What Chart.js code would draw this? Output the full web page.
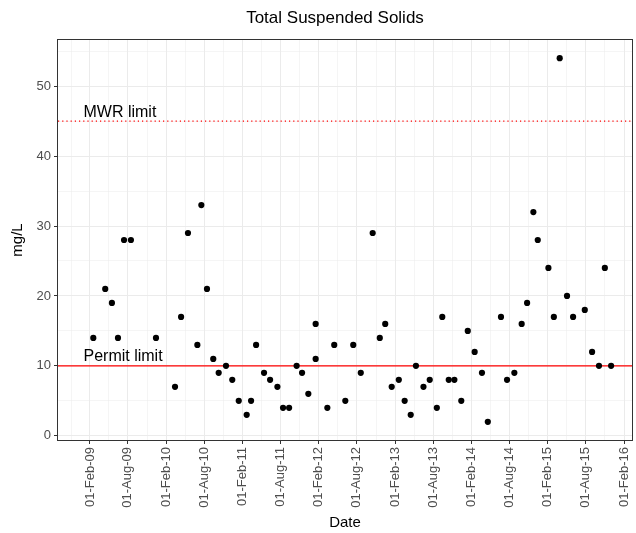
<!DOCTYPE html>
<html>
<head>
<meta charset="utf-8">
<script src="https://cdn.jsdelivr.net/npm/chart.js@4.4.1/dist/chart.umd.min.js"></script>
<style>
  html, body { margin: 0; padding: 0; background: #fff; }
  #wrap { width: 636px; height: 533px; }
</style>
</head>
<body>
<div id="wrap"><canvas id="tss"></canvas></div>
<script>
// sampling dates and TSS results (mg/L)
const sampleDates = [
  '2009-02-17', '2009-04-15', '2009-05-17', '2009-06-15', '2009-07-14', '2009-08-16',
  '2009-12-14', '2010-03-15', '2010-04-13', '2010-05-16', '2010-06-30', '2010-07-19',
  '2010-08-15', '2010-09-14', '2010-10-10', '2010-11-14', '2010-12-14', '2011-01-14',
  '2011-02-21', '2011-03-14', '2011-04-07', '2011-05-15', '2011-06-13', '2011-07-18',
  '2011-08-14', '2011-09-12', '2011-10-18', '2011-11-13', '2011-12-13', '2012-01-17',
  '2012-01-17', '2012-03-13', '2012-04-15', '2012-06-07', '2012-07-15', '2012-08-20',
  '2012-10-16', '2012-11-19', '2012-12-15', '2013-01-15', '2013-02-18', '2013-03-18',
  '2013-04-16', '2013-05-11', '2013-06-16', '2013-07-16', '2013-08-19', '2013-09-14',
  '2013-10-15', '2013-11-11', '2013-12-14', '2014-01-14', '2014-02-16', '2014-03-23',
  '2014-04-20', '2014-06-22', '2014-07-21', '2014-08-25', '2014-09-29', '2014-10-25',
  '2014-11-24', '2014-12-15', '2015-02-04', '2015-03-02', '2015-03-30', '2015-05-04',
  '2015-06-02', '2015-07-28', '2015-09-01', '2015-10-04', '2015-11-01', '2015-12-01'
]
const tssValues = [
  14, 21, 19, 14, 28, 28,
  14, 7, 17, 29, 13, 33,
  21, 11, 9, 10, 8, 5,
  3, 5, 13, 9, 8, 7,
  4, 4, 10, 9, 6, 16,
  11, 4, 13, 5, 13, 9,
  29, 14, 16, 7, 8, 5,
  3, 10, 7, 8, 4, 17,
  8, 8, 5, 15, 12, 9,
  2, 17, 8, 9, 16, 19,
  32, 28, 24, 17, 54, 20,
  17, 18, 12, 10, 24, 10
]

const permitLimit = 10
const mwrLimit = 45
const limitLabels = ['Permit limit', 'MWR limit']

const xTickDates = [
  '2009-02-01', '2009-08-01', '2010-02-01', '2010-08-01', '2011-02-01',
  '2011-08-01', '2012-02-01', '2012-08-01', '2013-02-01', '2013-08-01',
  '2014-02-01', '2014-08-01', '2015-02-01', '2015-08-01', '2016-02-01'
]
const yTicks = [0, 10, 20, 30, 40, 50]

const xRange = ['2008-09-01', '2016-03-10']
const yRange = [-0.6, 56.6]

const months = ['Jan','Feb','Mar','Apr','May','Jun','Jul','Aug','Sep','Oct','Nov','Dec']
function fmtDate(ms) {
  const d = new Date(ms)
  const dd = String(d.getUTCDate()).padStart(2, '0')
  const yy = String(d.getUTCFullYear() % 100).padStart(2, '0')
  return dd + '-' + months[d.getUTCMonth()] + '-' + yy
}

// major ticks plus the minor ones halfway between (and one step past each end)
function withMinors(majors, lo, hi) {
  const out = []
  for (let i = 0; i < majors.length; i++) {
    if (i == 0) out.push(majors[0] - (majors[1] - majors[0]) / 2)
    out.push(majors[i])
    if (i < majors.length - 1) out.push((majors[i] + majors[i + 1]) / 2)
    else out.push(majors[i] + (majors[i] - majors[i - 1]) / 2)
  }
  return out.filter(v => v >= lo && v <= hi)
}

const xMajor = xTickDates.map(s => Date.parse(s))
const xMin = Date.parse(xRange[0])
const xMax = Date.parse(xRange[1])
const xAll = withMinors(xMajor, xMin, xMax)
const yAll = withMinors(yTicks, yRange[0], yRange[1])

const isMajorX = v => xMajor.includes(v)
const isMajorY = v => yTicks.includes(v)

const points = sampleDates.map((s, i) => ({ x: Date.parse(s), y: tssValues[i] }))

// limit lines, their labels, title and panel border
const decorations = {
  id: 'decorations',
  beforeDatasetsDraw(chart) {
    const { ctx, chartArea: a, scales: { x, y } } = chart
    ctx.save()
    ctx.beginPath()
    ctx.rect(a.left, a.top, a.right - a.left, a.bottom - a.top)
    ctx.clip()
    ctx.strokeStyle = '#FF0000'

    let py = y.getPixelForValue(permitLimit)
    ctx.lineWidth = 1.2
    ctx.setLineDash([])
    ctx.beginPath()
    ctx.moveTo(a.left, py)
    ctx.lineTo(a.right, py)
    ctx.stroke()

    let my = y.getPixelForValue(mwrLimit)
    ctx.lineWidth = 1.2
    ctx.setLineDash([1.2, 3])
    ctx.beginPath()
    ctx.moveTo(a.left, my)
    ctx.lineTo(a.right, my)
    ctx.stroke()
    ctx.setLineDash([])

    const lx = x.getPixelForValue(Date.parse('2009-01-01'))
    ctx.fillStyle = '#000000'
    ctx.font = '16px "Liberation Sans", Arial, sans-serif'
    ctx.textAlign = 'left'
    ctx.textBaseline = 'alphabetic'
    ctx.fillText(limitLabels[0], lx, py - 4.5)
    ctx.fillText(limitLabels[1], lx, my - 4.5)
    ctx.restore()
  },
  afterDraw(chart) {
    const { ctx, chartArea: a } = chart
    ctx.save()
    ctx.strokeStyle = '#333333'
    ctx.lineWidth = 1
    ctx.strokeRect(Math.round(a.left) - 0.5, Math.round(a.top) - 0.5,
      Math.round(a.right - a.left) + 1, Math.round(a.bottom - a.top) + 1)

    ctx.fillStyle = '#000000'
    ctx.font = '17px "Liberation Sans", Arial, sans-serif'
    ctx.textAlign = 'center'
    ctx.textBaseline = 'middle'
    ctx.fillText('Total Suspended Solids', (a.left + a.right) / 2 - 10, 18)
    ctx.restore()
  }
}

const tickFont = { family: '"Liberation Sans", Arial, sans-serif', size: 13 }
const titleFont = { family: '"Liberation Sans", Arial, sans-serif', size: 15 }

new Chart(document.getElementById('tss'), {
  type: 'scatter',
  data: {
    datasets: [{
      label: 'TSS',
      data: points,
      backgroundColor: '#000000',
      borderWidth: 0,
      pointRadius: 3.1,
      pointHoverRadius: 3.1
    }]
  },
  options: {
    responsive: true,
    maintainAspectRatio: false,
    animation: false,
    events: [],
    layout: { padding: { top: 40, right: 4, left: 0, bottom: 0 } },
    plugins: {
      legend: { display: false },
      tooltip: { enabled: false }
    },
    scales: {
      x: {
        type: 'linear',
        min: xMin,
        max: xMax,
        afterBuildTicks: s => { s.ticks = xAll.map(v => ({ value: v })) },
        afterFit: s => { s.height = 93; s.paddingLeft = 0; s.paddingRight = 0 },
        border: { display: false },
        grid: {
          color: '#EBEBEB',
          lineWidth: c => isMajorX(c.tick.value) ? 1 : 0.5,
          tickColor: c => isMajorX(c.tick.value) ? '#333333' : 'rgba(0,0,0,0)',
          tickLength: 4,
          tickWidth: 1
        },
        ticks: {
          autoSkip: false,
          minRotation: 90,
          maxRotation: 90,
          padding: 3,
          color: '#4D4D4D',
          font: tickFont,
          callback: v => isMajorX(v) ? fmtDate(v) : ''
        },
        title: {
          display: true,
          text: 'Date',
          color: '#000000',
          font: titleFont,
          padding: { top: 0, bottom: 1 }
        }
      },
      y: {
        min: yRange[0],
        max: yRange[1],
        afterBuildTicks: s => { s.ticks = yAll.map(v => ({ value: v })) },
        afterFit: s => { s.width = 58; s.paddingTop = 0; s.paddingBottom = 0 },
        border: { display: false },
        grid: {
          color: '#EBEBEB',
          lineWidth: c => isMajorY(c.tick.value) ? 1 : 0.5,
          tickColor: c => isMajorY(c.tick.value) ? '#333333' : 'rgba(0,0,0,0)',
          tickLength: 4,
          tickWidth: 1
        },
        ticks: {
          padding: 3,
          color: '#4D4D4D',
          font: tickFont,
          callback: v => isMajorY(v) ? String(v) : ''
        },
        title: {
          display: true,
          text: 'mg/L',
          color: '#000000',
          font: titleFont,
          padding: { top: 9, bottom: 0 }
        }
      }
    }
  },
  plugins: [decorations]
})
</script>
</body>
</html>
